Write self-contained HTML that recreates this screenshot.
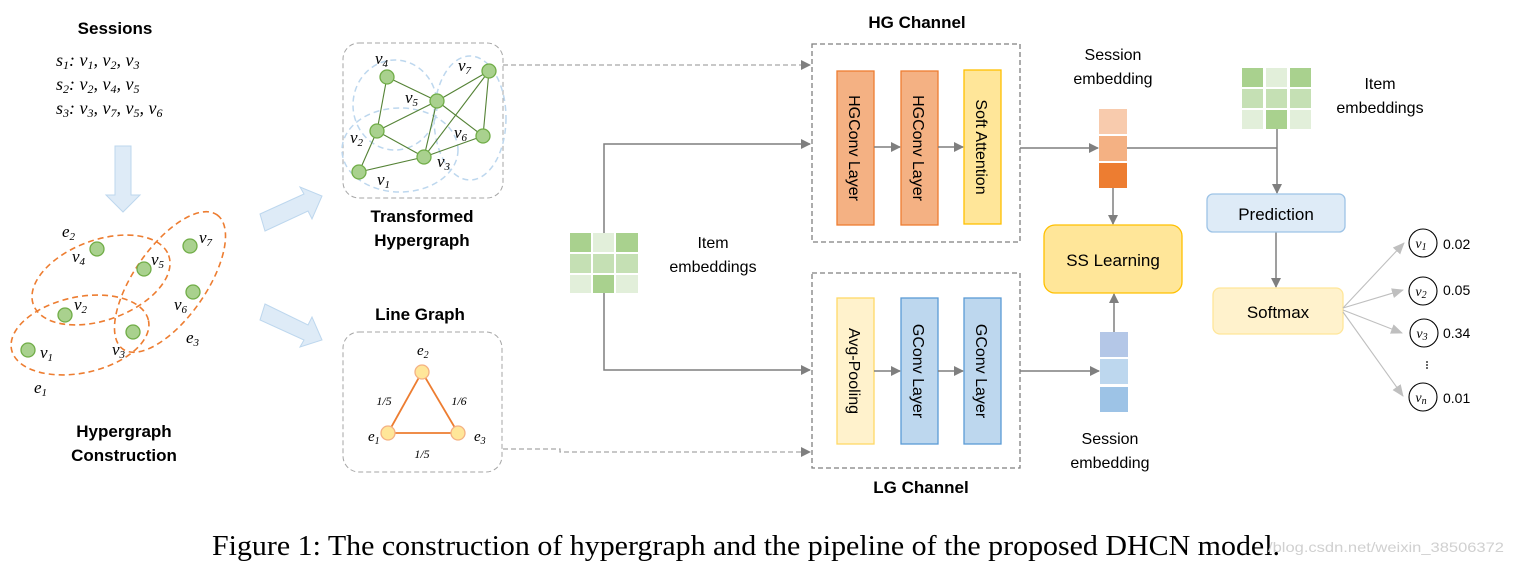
<!DOCTYPE html>
<html><head><meta charset="utf-8"><style>
html,body{margin:0;padding:0;background:#fff;}
svg{display:block;}
.s{font-family:"Liberation Sans",sans-serif;}
.b{font-family:"Liberation Sans",sans-serif;font-weight:bold;}
.m{font-family:"Liberation Serif",serif;font-style:italic;}
</style></head><body>
<svg width="1514" height="566" viewBox="0 0 1514 566" xmlns="http://www.w3.org/2000/svg">
<defs>
<marker id="ar" markerWidth="10" markerHeight="10" refX="9" refY="5" orient="auto" markerUnits="userSpaceOnUse"><path d="M0,0 L10,5 L0,10 z" fill="#7f7f7f"/></marker>
<marker id="al" markerWidth="12" markerHeight="10" refX="11" refY="5" orient="auto" markerUnits="userSpaceOnUse"><path d="M0,0 L12,5 L0,10 z" fill="#bfbfbf"/></marker>
</defs>

<!-- Sessions -->
<text class="b" x="115" y="34" font-size="17" text-anchor="middle">Sessions</text>
<text class="m" x="56" y="66" font-size="18">s<tspan font-size="12" dy="3">1</tspan><tspan dy="-3">: v</tspan><tspan font-size="12" dy="3">1</tspan><tspan dy="-3">, v</tspan><tspan font-size="12" dy="3">2</tspan><tspan dy="-3">, v</tspan><tspan font-size="12" dy="3">3</tspan></text>
<text class="m" x="56" y="90" font-size="18">s<tspan font-size="12" dy="3">2</tspan><tspan dy="-3">: v</tspan><tspan font-size="12" dy="3">2</tspan><tspan dy="-3">, v</tspan><tspan font-size="12" dy="3">4</tspan><tspan dy="-3">, v</tspan><tspan font-size="12" dy="3">5</tspan></text>
<text class="m" x="56" y="114" font-size="18">s<tspan font-size="12" dy="3">3</tspan><tspan dy="-3">: v</tspan><tspan font-size="12" dy="3">3</tspan><tspan dy="-3">, v</tspan><tspan font-size="12" dy="3">7</tspan><tspan dy="-3">, v</tspan><tspan font-size="12" dy="3">5</tspan><tspan dy="-3">, v</tspan><tspan font-size="12" dy="3">6</tspan></text>

<!-- down arrow -->
<path d="M115,146 L131,146 L131,195 L140,195 L123,212 L106,195 L115,195 Z" fill="#deebf7" stroke="#bdd7ee" stroke-width="1"/>

<!-- hypergraph ellipses -->
<g fill="none" stroke="#ed7d31" stroke-width="1.6" stroke-dasharray="6,4">
<ellipse cx="101" cy="280" rx="72" ry="40" transform="rotate(-20 101 280)"/>
<ellipse cx="80" cy="335" rx="70" ry="38" transform="rotate(-12 80 335)"/>
<ellipse cx="170" cy="282" rx="82" ry="36" transform="rotate(-55 170 282)"/>
</g>
<g fill="#a9d18e" stroke="#70ad47" stroke-width="1.3">
<circle cx="97" cy="249" r="7"/><circle cx="144" cy="269" r="7"/><circle cx="190" cy="246" r="7"/>
<circle cx="193" cy="292" r="7"/><circle cx="65" cy="315" r="7"/><circle cx="133" cy="332" r="7"/><circle cx="28" cy="350" r="7"/>
</g>
<g class="m" font-size="17">
<text x="62" y="237">e<tspan font-size="11" dy="3">2</tspan></text>
<text x="72" y="262">v<tspan font-size="11" dy="3">4</tspan></text>
<text x="151" y="265">v<tspan font-size="11" dy="3">5</tspan></text>
<text x="199" y="243">v<tspan font-size="11" dy="3">7</tspan></text>
<text x="174" y="310">v<tspan font-size="11" dy="3">6</tspan></text>
<text x="74" y="310">v<tspan font-size="11" dy="3">2</tspan></text>
<text x="112" y="355">v<tspan font-size="11" dy="3">3</tspan></text>
<text x="40" y="358">v<tspan font-size="11" dy="3">1</tspan></text>
<text x="186" y="343">e<tspan font-size="11" dy="3">3</tspan></text>
<text x="34" y="393">e<tspan font-size="11" dy="3">1</tspan></text>
</g>
<text class="b" x="124" y="437" font-size="17" text-anchor="middle">Hypergraph</text>
<text class="b" x="124" y="461" font-size="17" text-anchor="middle">Construction</text>

<!-- big diagonal arrows -->
<path d="M260,214 L304,194 L300,187 L322,196 L312,219 L308,211 L265,231 Z" fill="#deebf7" stroke="#bdd7ee"/>
<path d="M265,304 L308,325 L312,317 L322,340 L300,347 L304,340 L260,320 Z" fill="#deebf7" stroke="#bdd7ee"/>

<!-- transformed hypergraph -->
<rect x="343" y="43" width="160" height="155" rx="16" fill="none" stroke="#a6a6a6" stroke-dasharray="5,3"/>
<g fill="none" stroke="#bdd7ee" stroke-width="1.5" stroke-dasharray="6,4">
<ellipse cx="395" cy="105" rx="42" ry="45"/>
<ellipse cx="470" cy="118" rx="36" ry="62"/>
<ellipse cx="400" cy="150" rx="58" ry="42"/>
</g>
<g stroke="#548235" stroke-width="1.1">
<line x1="387" y1="77" x2="377" y2="131"/><line x1="387" y1="77" x2="437" y2="101"/>
<line x1="437" y1="101" x2="489" y2="71"/><line x1="437" y1="101" x2="377" y2="131"/>
<line x1="437" y1="101" x2="424" y2="157"/><line x1="437" y1="101" x2="483" y2="136"/>
<line x1="489" y1="71" x2="424" y2="157"/><line x1="489" y1="71" x2="483" y2="136"/>
<line x1="377" y1="131" x2="424" y2="157"/><line x1="359" y1="172" x2="377" y2="131"/>
<line x1="359" y1="172" x2="424" y2="157"/><line x1="424" y1="157" x2="483" y2="136"/>
</g>
<g fill="#a9d18e" stroke="#70ad47" stroke-width="1.3">
<circle cx="387" cy="77" r="7"/><circle cx="489" cy="71" r="7"/><circle cx="437" cy="101" r="7"/>
<circle cx="377" cy="131" r="7"/><circle cx="483" cy="136" r="7"/><circle cx="424" cy="157" r="7"/><circle cx="359" cy="172" r="7"/>
</g>
<g class="m" font-size="17">
<text x="375" y="64">v<tspan font-size="11" dy="3">4</tspan></text>
<text x="458" y="71">v<tspan font-size="11" dy="3">7</tspan></text>
<text x="405" y="103">v<tspan font-size="11" dy="3">5</tspan></text>
<text x="350" y="143">v<tspan font-size="11" dy="3">2</tspan></text>
<text x="454" y="138">v<tspan font-size="11" dy="3">6</tspan></text>
<text x="437" y="167">v<tspan font-size="11" dy="3">3</tspan></text>
<text x="377" y="185">v<tspan font-size="11" dy="3">1</tspan></text>
</g>
<text class="b" x="422" y="222" font-size="17" text-anchor="middle">Transformed</text>
<text class="b" x="422" y="246" font-size="17" text-anchor="middle">Hypergraph</text>

<!-- line graph -->
<text class="b" x="420" y="320" font-size="17" text-anchor="middle">Line Graph</text>
<rect x="343" y="332" width="159" height="140" rx="16" fill="none" stroke="#a6a6a6" stroke-dasharray="5,3"/>
<g stroke="#ed7d31" stroke-width="1.8"><line x1="422" y1="372" x2="388" y2="433"/><line x1="422" y1="372" x2="458" y2="433"/><line x1="388" y1="433" x2="458" y2="433"/></g>
<g fill="#ffe699" stroke="#f4b183" stroke-width="1.3"><circle cx="422" cy="372" r="7"/><circle cx="388" cy="433" r="7"/><circle cx="458" cy="433" r="7"/></g>
<g class="m" font-size="15">
<text x="417" y="355">e<tspan font-size="10" dy="3">2</tspan></text>
<text x="368" y="441">e<tspan font-size="10" dy="3">1</tspan></text>
<text x="474" y="441">e<tspan font-size="10" dy="3">3</tspan></text>
</g>
<g class="m" font-size="12" text-anchor="middle">
<text x="384" y="405">1/5</text><text x="459" y="405">1/6</text><text x="422" y="458">1/5</text>
</g>

<!-- dashed connectors -->
<g fill="none" stroke="#a6a6a6" stroke-width="1.3" stroke-dasharray="5,3">
<path d="M503,65 L810,65" marker-end="url(#ar)"/>
<path d="M503,449 L560,449 L560,452 L810,452" marker-end="url(#ar)"/>
</g>

<!-- item embeddings left -->
<g>
<rect x="570" y="233" width="21" height="19" fill="#a9d18e"/><rect x="593" y="233" width="21" height="19" fill="#e2efda"/><rect x="616" y="233" width="22" height="19" fill="#a9d18e"/>
<rect x="570" y="254" width="21" height="19" fill="#c5e0b4"/><rect x="593" y="254" width="21" height="19" fill="#c5e0b4"/><rect x="616" y="254" width="22" height="19" fill="#c5e0b4"/>
<rect x="570" y="275" width="21" height="18" fill="#e2efda"/><rect x="593" y="275" width="21" height="18" fill="#a9d18e"/><rect x="616" y="275" width="22" height="18" fill="#e2efda"/>
</g>
<text class="s" x="713" y="248" font-size="16" text-anchor="middle">Item</text>
<text class="s" x="713" y="272" font-size="16" text-anchor="middle">embeddings</text>
<g fill="none" stroke="#7f7f7f" stroke-width="1.5">
<path d="M604,233 L604,144 L810,144" marker-end="url(#ar)"/>
<path d="M604,293 L604,370 L810,370" marker-end="url(#ar)"/>
</g>

<!-- HG channel -->
<text class="b" x="917" y="28" font-size="17" text-anchor="middle">HG Channel</text>
<rect x="812" y="44" width="208" height="198" fill="none" stroke="#7f7f7f" stroke-width="1.3" stroke-dasharray="5,3"/>
<rect x="837" y="71" width="37" height="154" fill="#f4b183" stroke="#ed7d31" stroke-width="1.3"/>
<rect x="901" y="71" width="37" height="154" fill="#f4b183" stroke="#ed7d31" stroke-width="1.3"/>
<rect x="964" y="70" width="37" height="154" fill="#ffe699" stroke="#ffc000" stroke-width="1.3"/>
<g class="s" font-size="16" text-anchor="middle">
<text transform="translate(849,148) rotate(90)">HGConv Layer</text>
<text transform="translate(913,148) rotate(90)">HGConv Layer</text>
<text transform="translate(976,147) rotate(90)">Soft Attention</text>
</g>
<g stroke="#7f7f7f" stroke-width="1.5" fill="none">
<line x1="874" y1="147" x2="900" y2="147" marker-end="url(#ar)"/>
<line x1="938" y1="147" x2="963" y2="147" marker-end="url(#ar)"/>
</g>

<!-- LG channel -->
<rect x="812" y="273" width="208" height="195" fill="none" stroke="#7f7f7f" stroke-width="1.3" stroke-dasharray="5,3"/>
<rect x="837" y="298" width="37" height="146" fill="#fff2cc" stroke="#ffd966" stroke-width="1.3"/>
<rect x="901" y="298" width="37" height="146" fill="#bdd7ee" stroke="#5b9bd5" stroke-width="1.3"/>
<rect x="964" y="298" width="37" height="146" fill="#bdd7ee" stroke="#5b9bd5" stroke-width="1.3"/>
<g class="s" font-size="16" text-anchor="middle">
<text transform="translate(849,371) rotate(90)">Avg-Pooling</text>
<text transform="translate(913,371) rotate(90)">GConv Layer</text>
<text transform="translate(976,371) rotate(90)">GConv Layer</text>
</g>
<g stroke="#7f7f7f" stroke-width="1.5" fill="none">
<line x1="874" y1="371" x2="900" y2="371" marker-end="url(#ar)"/>
<line x1="938" y1="371" x2="963" y2="371" marker-end="url(#ar)"/>
</g>
<text class="b" x="921" y="493" font-size="17" text-anchor="middle">LG Channel</text>

<!-- session embeddings -->
<text class="s" x="1113" y="60" font-size="16" text-anchor="middle">Session</text>
<text class="s" x="1113" y="84" font-size="16" text-anchor="middle">embedding</text>
<rect x="1099" y="109" width="28" height="25" fill="#f8cbad"/>
<rect x="1099" y="136" width="28" height="25" fill="#f4b183"/>
<rect x="1099" y="163" width="28" height="25" fill="#ed7d31"/>
<rect x="1100" y="332" width="28" height="25" fill="#b4c7e7"/>
<rect x="1100" y="359" width="28" height="25" fill="#bdd7ee"/>
<rect x="1100" y="387" width="28" height="25" fill="#9dc3e6"/>
<text class="s" x="1110" y="444" font-size="16" text-anchor="middle">Session</text>
<text class="s" x="1110" y="468" font-size="16" text-anchor="middle">embedding</text>

<g stroke="#7f7f7f" stroke-width="1.5" fill="none">
<line x1="1020" y1="148" x2="1098" y2="148" marker-end="url(#ar)"/>
<line x1="1020" y1="371" x2="1099" y2="371" marker-end="url(#ar)"/>
<path d="M1127,148 L1277,148"/>
<line x1="1277" y1="129" x2="1277" y2="193" marker-end="url(#ar)"/>
<line x1="1113" y1="188" x2="1113" y2="224" marker-end="url(#ar)"/>
<line x1="1114" y1="332" x2="1114" y2="294" marker-end="url(#ar)"/>
<line x1="1276" y1="232" x2="1276" y2="287" marker-end="url(#ar)"/>
</g>

<rect x="1044" y="225" width="138" height="68" rx="11" fill="#ffe699" stroke="#ffc000" stroke-width="1.3"/>
<text class="s" x="1113" y="266" font-size="17" text-anchor="middle">SS Learning</text>

<!-- item embeddings right -->
<rect x="1242" y="68" width="21" height="19" fill="#a9d18e"/><rect x="1266" y="68" width="21" height="19" fill="#e2efda"/><rect x="1290" y="68" width="21" height="19" fill="#a9d18e"/>
<rect x="1242" y="89" width="21" height="19" fill="#c5e0b4"/><rect x="1266" y="89" width="21" height="19" fill="#c5e0b4"/><rect x="1290" y="89" width="21" height="19" fill="#c5e0b4"/>
<rect x="1242" y="110" width="21" height="19" fill="#e2efda"/><rect x="1266" y="110" width="21" height="19" fill="#a9d18e"/><rect x="1290" y="110" width="21" height="19" fill="#e2efda"/>
<text class="s" x="1380" y="89" font-size="16" text-anchor="middle">Item</text>
<text class="s" x="1380" y="113" font-size="16" text-anchor="middle">embeddings</text>

<rect x="1207" y="194" width="138" height="38" rx="6" fill="#deebf7" stroke="#9dc3e6" stroke-width="1.3"/>
<text class="s" x="1276" y="220" font-size="17" text-anchor="middle">Prediction</text>
<rect x="1213" y="288" width="130" height="46" rx="7" fill="#fff2cc" stroke="#ffe699" stroke-width="1.3"/>
<text class="s" x="1278" y="318" font-size="17" text-anchor="middle">Softmax</text>

<!-- outputs -->
<g stroke="#bfbfbf" stroke-width="1.1" fill="none">
<line x1="1343" y1="308" x2="1404" y2="243" marker-end="url(#al)"/>
<line x1="1343" y1="308" x2="1403" y2="290" marker-end="url(#al)"/>
<line x1="1343" y1="310" x2="1402" y2="333" marker-end="url(#al)"/>
<line x1="1343" y1="312" x2="1403" y2="396" marker-end="url(#al)"/>
</g>
<g fill="#fff" stroke="#000" stroke-width="1.1">
<circle cx="1423" cy="243" r="14"/><circle cx="1423" cy="291" r="14"/><circle cx="1424" cy="333" r="14"/><circle cx="1423" cy="397" r="14"/>
</g>
<g class="m" font-size="14" text-anchor="middle">
<text x="1421" y="248">v<tspan font-size="10" dy="2">1</tspan></text>
<text x="1421" y="296">v<tspan font-size="10" dy="2">2</tspan></text>
<text x="1422" y="338">v<tspan font-size="10" dy="2">3</tspan></text>
<text x="1421" y="402">v<tspan font-size="10" dy="2">n</tspan></text>
</g>
<g class="s" font-size="14">
<text x="1443" y="249">0.02</text><text x="1443" y="295">0.05</text><text x="1443" y="338">0.34</text><text x="1443" y="403">0.01</text>
</g>
<g fill="#000"><circle cx="1427" cy="362" r="0.9"/><circle cx="1427" cy="365" r="0.9"/><circle cx="1427" cy="368" r="0.9"/></g>

<!-- caption -->
<text x="212" y="555" font-family="Liberation Serif, serif" font-size="28" textLength="1068" lengthAdjust="spacingAndGlyphs">Figure 1: The construction of hypergraph and the pipeline of the proposed DHCN model.</text>
<text class="s" x="1268" y="552" font-size="14" fill="#d0d0d0" textLength="236" lengthAdjust="spacingAndGlyphs">/blog.csdn.net/weixin_38506372</text>
</svg>
</body></html>
